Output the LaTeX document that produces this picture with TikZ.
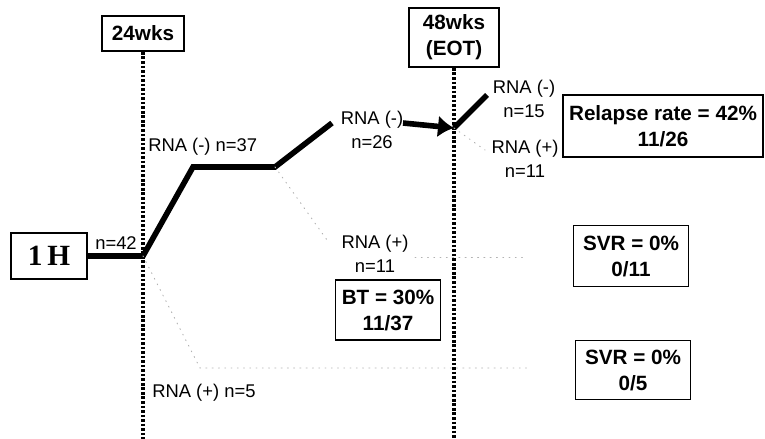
\documentclass[tikz,border=0pt]{standalone}
\usepackage{fontspec}
\setmainfont{Liberation Sans}
\newfontfamily\serifbold{Liberation Serif}
\usetikzlibrary{arrows.meta}
\begin{document}
\begin{tikzpicture}[x=0.75pt, y=-0.75pt, >={Latex[length=12pt,width=16.5pt]}, line cap=round,
  tbox/.style={draw, line width=1.4pt, align=center, inner sep=0pt, font=\bfseries\fontsize{15.5}{19.5}\selectfont},
  lbl/.style={align=center, inner sep=0pt, font=\fontsize{13.8}{18}\selectfont},
  trace/.style={line width=4.2pt, line cap=butt},
  wkline/.style={line width=3pt, line cap=butt, dash pattern=on 2pt off 1.4pt},
  faint/.style={black!30, line width=0.7pt, dash pattern=on 0.7pt off 4pt}]
  \useasboundingbox (0,0) rectangle (765,439);
  % time points
  \node[tbox, minimum width=61.5pt, minimum height=26.25pt] (wk24) at (143,33.5) {24wks};
  \node[tbox, minimum width=67.5pt, minimum height=44.25pt] (wk48) at (454,37.5) {48wks\\(EOT)};
  \coordinate (bot24) at (143,439);
  \coordinate (bot48) at (454,439);
  \draw[wkline] (wk24.south) -- (bot24);
  \draw[wkline] (wk48.south) -- (bot48);
  % start
  \node[draw, line width=1.4pt, inner sep=0pt, minimum width=57pt, minimum height=34.5pt,
        font=\serifbold\bfseries\fontsize{22}{24}\selectfont] (start) at (49,256) {1\,H};
  % course of the responders
  \coordinate (w24) at (143,256);
  \coordinate (k1) at (193,167);
  \coordinate (k2) at (275,167);
  \coordinate (k3) at (332,123);
  \coordinate (a26) at (403,123);
  \coordinate (eot) at (454,128);
  \coordinate (r15) at (487,95);
  \draw[trace] (start.east) -- (w24) -- (k1) -- (k2) -- (k3);
  \draw[trace, ->] (a26) -- (eot);
  \draw[trace] (eot) -- (r15);
  % faded branches
  \coordinate (f1) at (327,240);
  \coordinate (f2) at (415,257);
  \coordinate (f3) at (527,257);
  \coordinate (f4) at (200,368);
  \coordinate (f5) at (527,368);
  \coordinate (f6) at (485,150);
  \draw[faint] (k2) -- (f1);
  \draw[faint] (f2) -- (f3);
  \draw[faint] (w24) -- (f4) -- (f5);
  \draw[faint] (eot) -- (f6);
  % labels
  \node[lbl] (n42) at (116,243) {n=42};
  \node[lbl, anchor=west] (neg37) at (148,147) {RNA (-) n=37};
  \node[lbl] (neg26) at (372,130) {RNA (-)\\n=26};
  \node[lbl] (neg15) at (524,99) {RNA (-)\\n=15};
  \node[lbl] (pos11r) at (525,159) {RNA (+)\\n=11};
  \node[lbl] (pos11) at (375,254) {RNA (+)\\n=11};
  \node[lbl, anchor=west] (pos5) at (152,393) {RNA (+) n=5};
  % outcomes
  \node[tbox, minimum width=150pt, minimum height=46.5pt] (relapse) at (663,126) {Relapse rate = 42\%\\11/26};
  \node[tbox, minimum width=78.75pt, minimum height=45pt] (bt) at (388,310) {BT = 30\%\\11/37};
  \node[tbox, minimum width=86.25pt, minimum height=45.75pt] (svr11) at (631,256) {SVR = 0\%\\0/11};
  \node[tbox, minimum width=86.25pt, minimum height=44.25pt] (svr5) at (633,370) {SVR = 0\%\\0/5};
\end{tikzpicture}
\end{document}
